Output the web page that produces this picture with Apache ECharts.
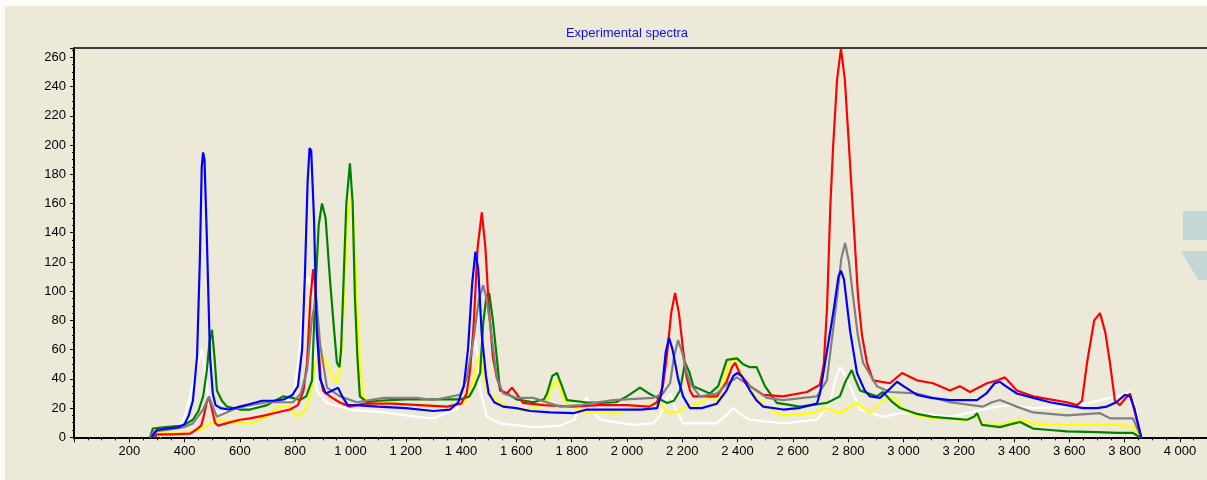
<!DOCTYPE html>
<html>
<head>
<meta charset="utf-8">
<script src="https://cdn.jsdelivr.net/npm/echarts@6/dist/echarts.min.js"></script>
<style>html,body{margin:0;padding:0;background:#ECE9D8;}#c{width:1207px;height:480px;}</style>
</head>
<body>
<div id="c"></div>
<script>
const titleText = 'Experimental spectra';
const xTickInterval = 200;
const yTickInterval = 20;

const blue = [[280,0],[300,5],[340,6],[380,7],[400,9],[415,15],[430,25],[445,55],[455,120],[462,185],[467,195],[472,190],[480,140],[492,55],[502,30],[512,22],[530,20],[560,19],[600,21],[640,23],[680,25],[720,25],[760,26],[790,29],[810,35],[825,60],[835,110],[845,175],[852,198],[858,196],[868,150],[878,73],[890,40],[910,30],[935,32],[955,34],[970,28],[990,22],[1020,22],[1100,21],[1200,20],[1300,18],[1360,19],[1390,24],[1410,35],[1425,60],[1440,105],[1452,127],[1462,115],[1475,70],[1490,42],[1500,30],[1520,24],[1552,21],[1600,20],[1650,18],[1722,17],[1806,16.5],[1855,19],[1950,19],[2050,19],[2109,20],[2125,30],[2140,58],[2152,68],[2165,60],[2185,40],[2203,28],[2228,20],[2270,20],[2325,23],[2360,32],[2385,42],[2399,44],[2415,42],[2445,32],[2470,25],[2493,21],[2565,19],[2620,20],[2687,23],[2698,30],[2720,55],[2746,85],[2765,110],[2774,114],[2785,108],[2807,73],[2832,44],[2860,32],[2879,28],[2915,27],[2950,33],[2977,38],[3000,35],[3049,29],[3100,27],[3168,25.5],[3266,25.5],[3300,30],[3330,37],[3349,38],[3370,35],[3410,30],[3470,27],[3530,24],[3590,22],[3650,20],[3700,20],[3736,21],[3770,24],[3801,29],[3820,28],[3835,20],[3860,0]];

const red = [[290,0],[300,2],[350,2],[420,2.5],[440,5],[460,8],[470,15],[480,24],[488,27.5],[498,20],[510,10],[521,8],[560,10],[600,12],[637,13],[690,15],[734,17],[781,19],[810,22],[830,32],[843,51],[855,95],[865,115],[872,105],[882,70],[892,40],[901,32],[926,28],[960,24],[998,21],[1050,23],[1150,23],[1250,22],[1350,21],[1400,23],[1420,30],[1432,45],[1445,75],[1460,130],[1475,154],[1488,130],[1500,90],[1515,55],[1529,41],[1545,32],[1565,30],[1584,34],[1600,30],[1624,23.5],[1700,22],[1800,21],[1900,22],[2000,22],[2080,21],[2109,24],[2130,35],[2144,55],[2160,85],[2174,98.7],[2188,85],[2203,60],[2215,42],[2228,32],[2240,28],[2325,28],[2360,38],[2380,48],[2391,51],[2410,43],[2445,35],[2493,29],[2565,28],[2651,31],[2698,36],[2712,50],[2724,90],[2736,160],[2746,200],[2760,245],[2774,266],[2788,245],[2807,187],[2822,140],[2836,96],[2850,70],[2868,51],[2890,39],[2951,37],[2995,44],[3049,39],[3107,37],[3168,32],[3204,35],[3241,31],[3302,37],[3340,39],[3367,41],[3410,32],[3469,28],[3530,26],[3591,24],[3628,22],[3646,25],[3664,51],[3690,80],[3711,85],[3730,72],[3747,51],[3765,25],[3783,22],[3800,26],[3820,30],[3840,15],[3860,0]];

const green = [[275,0],[285,6],[330,7],[395,8],[430,12],[450,18],[467,28],[480,45],[490,65],[499,73.5],[508,55],[517,32],[535,25],[553,21],[600,19],[637,19],[698,22],[756,28],[790,27],[817,25.5],[840,28],[861,39],[872,96],[885,145],[897,160],[910,150],[926,107.5],[940,75],[951,51],[960,48],[966,60],[973,96],[985,160],[998,187.5],[1008,160],[1016,96],[1025,55],[1034,28],[1060,24],[1100,25],[1200,26],[1300,26],[1400,26],[1430,28],[1450,35],[1469,44],[1480,78],[1492,97],[1502,98.5],[1515,80],[1529,55],[1541,32],[1566,30],[1600,26],[1661,24],[1700,26],[1711,30],[1730,42],[1747,44],[1765,35],[1783,25.5],[1850,24],[1903,23.5],[1960,24],[2000,28],[2047,34],[2080,30],[2109,27],[2145,23.5],[2170,25],[2192,32],[2210,51],[2225,45],[2240,35],[2300,30],[2330,35],[2361,53],[2398,54],[2420,50],[2445,48],[2469,48],[2499,35],[2542,23.5],[2626,21],[2723,23.5],[2770,28],[2790,38],[2813,46],[2825,40],[2843,32],[2904,28],[2926,31],[2955,25],[2988,20],[3050,16],[3107,14],[3170,13],[3230,12],[3255,14],[3266,16.5],[3284,8.5],[3349,7],[3390,9],[3422,10.5],[3469,6],[3530,5],[3591,4],[3700,3.5],[3772,3],[3830,3],[3855,0]];

const yellow = [[310,0],[320,3],[395,3],[456,5],[480,8],[517,12],[576,10.5],[637,9.5],[698,14],[734,21],[781,21],[795,17],[810,14],[835,18],[853,28],[865,40],[878,53],[900,56],[920,48],[940,40],[951,37],[965,50],[978,100],[990,150],[1005,167],[1016,130],[1028,73],[1037,45],[1046,28],[1070,23.5],[1150,23],[1250,22],[1360,21],[1420,25.5],[1440,35],[1455,50],[1469,57],[1480,45],[1493,32],[1541,23.5],[1601,19],[1661,19],[1711,25],[1730,35],[1747,39],[1765,30],[1777,24],[1843,17],[1964,16.5],[2047,21],[2120,23.5],[2144,17],[2181,17],[2217,21],[2264,23.5],[2300,28],[2330,23.5],[2361,46],[2384,55],[2420,41],[2456,30],[2517,19],[2565,15],[2662,16.5],[2723,20],[2770,16.5],[2832,23.5],[2879,16.5],[2926,25.5],[2969,27],[2999,19],[3050,15],[3107,13],[3170,12.5],[3230,12],[3266,15],[3284,9.5],[3349,8.5],[3422,12],[3469,9.5],[3591,8.5],[3772,8.5],[3830,7],[3860,0]];

const gray = [[275,0],[290,4],[336,5],[400,7],[430,9.5],[467,19],[488,28],[500,22],[517,14],[576,19],[612,21],[698,24],[792,24],[820,30],[843,46],[860,80],[875,96],[883,80],[890,64],[915,34],[962,28],[1023,24],[1119,27],[1240,27],[1300,25.5],[1396,29],[1420,40],[1445,67],[1465,95],[1480,104],[1492,95],[1505,78],[1529,41],[1552,30],[1601,27],[1661,27],[1758,21],[1830,22],[1950,25.5],[2095,27],[2130,30],[2156,37],[2170,55],[2185,66.5],[2200,58],[2215,45],[2228,37],[2264,28],[2325,30],[2365,37],[2398,41],[2445,35],[2506,27],[2565,25.5],[2687,28],[2723,39],[2740,65],[2760,96],[2775,122],[2789,133],[2803,120],[2818,96],[2835,70],[2854,51],[2904,35],[2951,31],[3049,30],[3168,24],[3288,21],[3320,24],[3349,25.5],[3410,21],[3469,17],[3591,15],[3711,16.5],[3747,13],[3830,13],[3860,0]];

const white = [[275,0],[285,4],[330,5],[380,8],[400,14],[420,28],[440,45],[463,60],[475,45],[485,28],[500,20],[517,17],[576,19],[698,23],[781,25.5],[800,35],[817,62],[836,105],[848,110],[858,95],[865,73],[878,32],[915,23.5],[998,19],[1119,17],[1240,14],[1300,13],[1385,19],[1410,35],[1432,62],[1450,68],[1460,55],[1469,32],[1493,14],[1541,9.5],[1661,7],[1760,8],[1810,12],[1830,22],[1855,27],[1875,18],[1903,12],[2022,8.5],[2095,9.5],[2120,15],[2140,25],[2156,30],[2175,20],[2203,9.5],[2325,9.5],[2365,16],[2384,20],[2410,16],[2445,12],[2565,9.5],[2687,12],[2734,23.5],[2755,40],[2770,48],[2785,44],[2807,35],[2843,19],[2926,14],[2988,16.5],[3049,16.5],[3168,14],[3288,19],[3374,22],[3469,20],[3591,21],[3675,23.5],[3711,25.5],[3772,28],[3820,31],[3840,20],[3860,0]];

const seriesList = [
  {name:'white', data: white, color:'#FFFFFF'},
  {name:'yellow', data: yellow, color:'#FFFF00'},
  {name:'green', data: green, color:'#008000'},
  {name:'red', data: red, color:'#FF0000'},
  {name:'gray', data: gray, color:'#808080'},
  {name:'blue', data: blue, color:'#0000FF'}
];

const fmt = v => String(v).replace(/\B(?=(\d{3})+(?!\d))/g, ' ');
const chart = echarts.init(document.getElementById('c'), null, {renderer:'canvas'});
const font = 'Liberation Sans, Arial, sans-serif';
chart.setOption({
  animation: false,
  backgroundColor: '#ECE9D8',
  title: {text: titleText, left: 627, top: 27, textAlign: 'center', padding: 0,
    textStyle: {color:'#1010F0', fontSize: 13, fontWeight: 'normal', fontFamily: font}},
  grid: {left: 74, top: 48, right: 0, bottom: 42.7, containLabel: false},
  xAxis: [{
    type: 'value', min: 0, max: 4098, interval: xTickInterval,
    axisLine: {show: true, onZero: false, lineStyle: {color:'#000', width: 2}},
    axisTick: {show: true, length: 5, lineStyle: {color:'#000', width: 1}},
    minorTick: {show: true, splitNumber: 4, length: 3, lineStyle: {color:'#000', width: 1}},
    axisLabel: {showMinLabel: false, showMaxLabel: false, margin: 8, color:'#000', fontSize: 13, fontFamily: font, formatter: fmt},
    splitLine: {show: false}
  },{
    type: 'value', position: 'top', min: 0, max: 4098,
    axisLine: {show: true, onZero: false, lineStyle: {color:'#3C3C3C', width: 2}},
    axisTick: {show: false}, axisLabel: {show: false}, splitLine: {show: false}
  }],
  yAxis: {
    type: 'value', min: 0, max: 266.4, interval: yTickInterval,
    axisLine: {show: true, lineStyle: {color:'#000', width: 2}},
    axisTick: {show: true, length: 4, lineStyle: {color:'#000', width: 1}},
    minorTick: {show: true, splitNumber: 4, length: 2, lineStyle: {color:'#000', width: 1}},
    axisLabel: {showMaxLabel: false, margin: 8, color:'#000', fontSize: 13, fontFamily: font},
    splitLine: {show: false}
  },
  series: seriesList.map(s => ({
    name: s.name, type: 'line', xAxisIndex: 0, data: s.data, showSymbol: false, symbol: 'none',
    lineStyle: {color: s.color, width: 2.2}, itemStyle: {color: s.color}, silent: true
  })),
  graphic: [
    {type:'rect', shape:{x:0,y:0,width:1207,height:6}, style:{fill:'#FBFBF8'}, z: 100},
    {type:'rect', shape:{x:0,y:0,width:5,height:480}, style:{fill:'#FBFBF8'}, z: 100},
    {type:'rect', shape:{x:1183,y:211,width:24,height:29}, style:{fill:'#C4D7D4'}, z: 100},
    {type:'polygon', shape:{points:[[1181,251],[1207,251],[1207,280],[1198,280]]}, style:{fill:'#C4D7D4'}, z: 100}
  ]
});
</script>
</body>
</html>
